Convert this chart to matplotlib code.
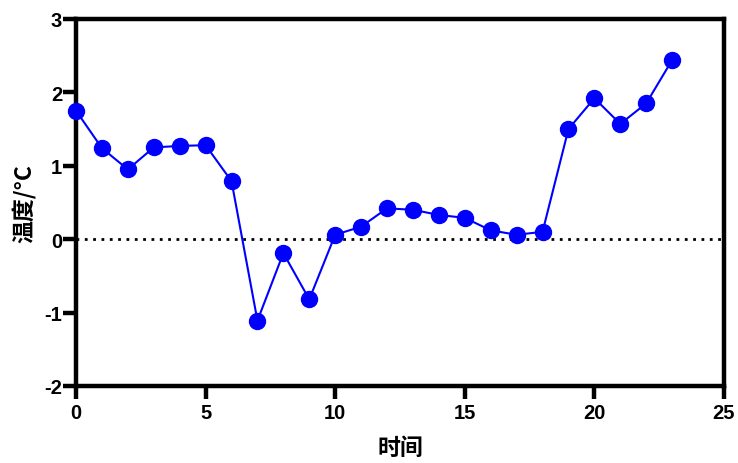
import matplotlib
matplotlib.use("Agg")
import matplotlib.pyplot as plt

plt.rcParams['font.family'] = ['Liberation Sans', 'Noto Sans CJK SC', 'DejaVu Sans']

hours = list(range(24))
temps = [1.75, 1.24, 0.95, 1.25, 1.27, 1.28, 0.79, -1.11, -0.19, -0.82,
         0.06, 0.17, 0.42, 0.40, 0.33, 0.29, 0.12, 0.06, 0.10, 1.50,
         1.92, 1.57, 1.85, 2.44]
xticks = [0, 5, 10, 15, 20, 25]
yticks = [-2, -1, 0, 1, 2, 3]
xlabel = "时间"
ylabel = "温度/°C"

fig = plt.figure(figsize=(7.38, 4.64), dpi=100)
ax = fig.add_axes([0.103, 0.166, 0.878, 0.791])

ax.axhline(0, color='black', linestyle=(0, (1, 2)), linewidth=2, zorder=1)
ax.plot(hours, temps, color='#0000ff', linewidth=1.5, marker='o',
        markersize=11.5, markerfacecolor='#0000ff', markeredgecolor='#0000ff',
        clip_on=False, zorder=3)

ax.set_xlim(0, 25)
ax.set_ylim(-2, 3)
ax.set_xticks(xticks)
ax.set_yticks(yticks)
ax.set_xticklabels([str(t) for t in xticks], fontweight='bold', fontsize=14.5)
ax.set_yticklabels([str(t) for t in yticks], fontweight='bold', fontsize=14.5)
for s in ax.spines.values():
    s.set_linewidth(3.2)
    s.set_color('black')
ax.tick_params(direction='out', length=9.5, width=3.2)
ax.tick_params(axis='x', pad=3)
ax.tick_params(axis='y', pad=0.5)

ax.set_xlabel(xlabel, fontsize=16.5, fontweight='bold',
              family=['Noto Sans CJK SC', 'DejaVu Sans'], labelpad=10)
ax.set_ylabel(ylabel, fontsize=16.5, fontweight='bold',
              family=['Noto Sans CJK SC', 'DejaVu Sans'], labelpad=5)

fig.savefig('out.png', dpi=100)
